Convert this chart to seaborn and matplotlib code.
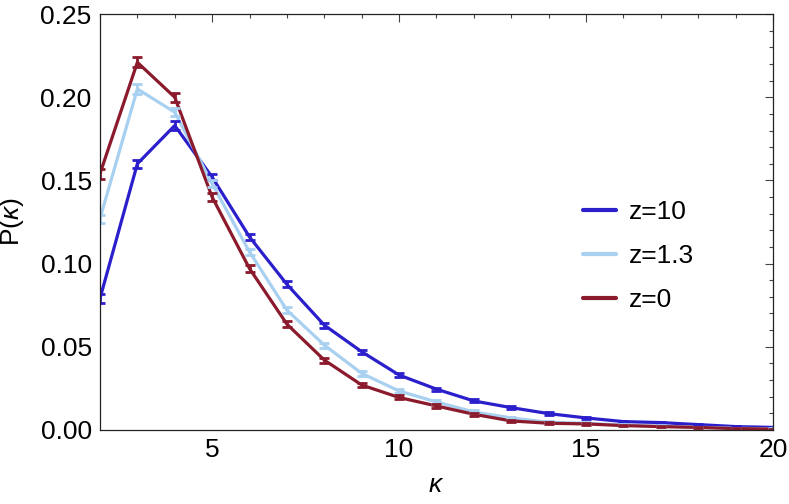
import numpy as np
import pandas as pd
import matplotlib
matplotlib.use("Agg")
import matplotlib.pyplot as plt
from matplotlib.ticker import MultipleLocator
import seaborn as sns

# degree k and P(k)
kappa = list(range(2, 21))
p_z10 = [0.079, 0.160, 0.183, 0.152, 0.116, 0.0875, 0.063, 0.047, 0.033, 0.0245,
         0.0174, 0.0134, 0.0098, 0.0072, 0.0050, 0.0044, 0.0032, 0.0020, 0.0015]
p_z13 = [0.127, 0.205, 0.191, 0.148, 0.107, 0.072, 0.051, 0.034, 0.0234, 0.0168,
         0.0108, 0.0072, 0.0046, 0.0040, 0.0028, 0.0022, 0.0016, 0.0010, 0.0006]
p_z0 = [0.154, 0.221, 0.200, 0.140, 0.097, 0.0636, 0.042, 0.027, 0.0195, 0.0144,
        0.0094, 0.0054, 0.0040, 0.0036, 0.0026, 0.0020, 0.0015, 0.0008, 0.0005]
err_z10 = [0.0025, 0.0025, 0.0025, 0.002, 0.002, 0.0018, 0.0015, 0.0013, 0.0012, 0.001,
           0.0009, 0.0008, 0.0007, 0.0006, 0.0005, 0.0005, 0.0004, 0.0004, 0.0003]
err_z13 = [0.0025, 0.0028, 0.0025, 0.002, 0.002, 0.0018, 0.0015, 0.0013, 0.0012, 0.001,
           0.0009, 0.0008, 0.0007, 0.0006, 0.0005, 0.0005, 0.0004, 0.0004, 0.0003]
err_z0 = [0.003, 0.003, 0.0028, 0.0022, 0.002, 0.0018, 0.0015, 0.0013, 0.0012, 0.001,
          0.0009, 0.0008, 0.0007, 0.0006, 0.0005, 0.0005, 0.0004, 0.0004, 0.0003]
labels = ["z=10", "z=1.3", "z=0"]
colors = ["#2b1fcc", "#a8d0f0", "#8b1a2c"]

df = pd.concat([
    pd.DataFrame({"k": kappa, "P": p, "err": e, "series": lab})
    for p, e, lab in zip([p_z10, p_z13, p_z0], [err_z10, err_z13, err_z0], labels)
])

sns.set_style("white")
plt.rcParams["font.family"] = ["Liberation Sans", "DejaVu Sans"]
plt.rcParams["mathtext.fontset"] = "custom"
plt.rcParams["mathtext.it"] = "Liberation Sans:italic"
plt.rcParams["mathtext.rm"] = "Liberation Sans"
plt.rcParams["text.color"] = "black"
plt.rcParams["axes.labelcolor"] = "black"
plt.rcParams["xtick.color"] = "black"
plt.rcParams["ytick.color"] = "black"

fig = plt.figure(figsize=(7.89, 5.04), dpi=100)
ax = fig.add_axes([0.1267, 0.147, 0.853, 0.825])

sns.lineplot(data=df, x="k", y="P", hue="series", hue_order=labels,
             palette=colors, linewidth=2.3, ax=ax, legend=True)
for lab, col in zip(labels, colors):
    sub = df[df["series"] == lab]
    ax.errorbar(sub["k"], sub["P"], yerr=sub["err"], fmt="none", ecolor=col,
                elinewidth=2, capsize=3.5, capthick=2)

ax.set_xlim(2, 20)
ax.set_ylim(0, 0.25)
ax.xaxis.set_major_locator(MultipleLocator(5))
ax.xaxis.set_minor_locator(MultipleLocator(1))
ax.yaxis.set_major_locator(MultipleLocator(0.05))
ax.yaxis.set_minor_locator(MultipleLocator(0.01))
ax.yaxis.set_major_formatter(matplotlib.ticker.FormatStrFormatter("%.2f"))
ax.tick_params(which="both", direction="in", top=True, right=True,
               color="#444444", width=0.8, labelsize=19, pad=6)
ax.tick_params(which="major", length=6)
ax.tick_params(which="minor", length=3)
for s in ax.spines.values():
    s.set_color("#222222")
    s.set_linewidth(0.9)

ax.set_xlabel(r"$\kappa$", fontsize=19, labelpad=8)
ax.set_ylabel(r"P$(\kappa)$", fontsize=19, labelpad=10)

leg = ax.legend(loc="center left", bbox_to_anchor=(0.702, 0.418), borderaxespad=0,
                frameon=False, fontsize=19, handlelength=1.25, handletextpad=0.5,
                labelspacing=0.75)
for h in leg.get_lines():
    h.set_linewidth(3)

fig.savefig("out.png", dpi=100)
